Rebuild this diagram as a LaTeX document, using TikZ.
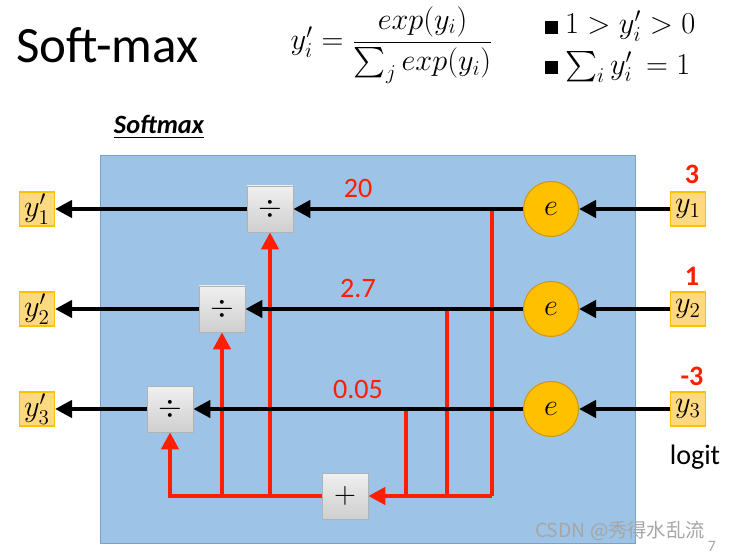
\documentclass[tikz,border=0pt]{standalone}
\usepackage{fontspec}
\setmainfont{Carlito}
\newfontfamily\cjk{Noto Sans CJK SC}
\usepackage{amsmath}
\usetikzlibrary{arrows.meta,calc}

\definecolor{panel}{RGB}{157,195,230}
\definecolor{panelline}{RGB}{120,160,200}
\definecolor{sun}{RGB}{255,192,0}
\definecolor{sunline}{RGB}{210,150,20}
\definecolor{pale}{RGB}{255,217,127}
\definecolor{wire}{RGB}{255,30,0}

\begin{document}
\begin{tikzpicture}[x=0.02cm,y=-0.02cm,
  every node/.style={font=\fontsize{17}{19}\selectfont},
  io/.style={draw=sun,fill=pale,line width=0.6pt,minimum width=0.7cm,minimum height=0.68cm,inner sep=0pt},
  ex/.style={circle,draw=sunline,fill=sun,line width=0.6pt,minimum size=1.1cm,inner sep=0pt},
  op/.style={draw=gray!60,top color=gray!12,bottom color=gray!38,minimum size=0.92cm,inner sep=0pt},
  num/.style={text=wire,font=\fontsize{16}{18}\selectfont},
  val/.style={text=wire,font=\fontsize{16}{18}\selectfont\bfseries,inner sep=1pt},
  ba/.style={-{Triangle[length=3.4mm,width=3.4mm]},line width=2.4pt},
  rl/.style={draw=wire,line width=2.4pt},
  ra/.style={rl,-{Triangle[length=3.4mm,width=3.4mm]}}]
\useasboundingbox (0,0) rectangle (731,553);
% header
\node[anchor=west,font=\fontsize{29}{32}\selectfont] (title) at (10,45) {Soft-max};
\node[font=\fontsize{18.5}{20}\selectfont,inner sep=0pt] (formula) at (392,45)
  {$y_i' = \dfrac{exp(y_i)}{\sum\nolimits_j exp(y_i)}$};
\node[anchor=west,font=\fontsize{17}{19}\selectfont,inner sep=0pt] (prop1) at (545,26)
  {\rule{0.26cm}{0.26cm}\ $1 > y_i' > 0$};
\node[anchor=west,font=\fontsize{17}{19}\selectfont,inner sep=0pt] (prop2) at (545,67)
  {\rule{0.26cm}{0.26cm}\ $\sum\nolimits_i y_i' \,= 1$};
% panel
\node[font=\fontsize{15}{17}\selectfont\bfseries\itshape] (name) at (159,127) {\underline{Softmax}};
\fill[panel,draw=panelline,line width=0.5pt] (100,155) rectangle (635,543);
% nodes
\node[io] (in1) at (688,209) {$y_1$};
\node[io] (in2) at (688,309) {$y_2$};
\node[io] (in3) at (688,409) {$y_3$};
\node[val] (v1) at (692,174) {3};
\node[val] (v2) at (692,276) {1};
\node[val] (v3) at (692,376) {-3};
\node[font=\fontsize{16}{18}\selectfont] (logit) at (695,457) {logit};
\node[ex] (e1) at (551,209) {$e$};
\node[ex] (e2) at (551,309) {$e$};
\node[ex] (e3) at (551,409) {$e$};
\node[op] (div1) at (270,209) {$\div$};
\node[op] (div2) at (222,309) {$\div$};
\node[op] (div3) at (170,409) {$\div$};
\node[op] (sum) at (345,496) {\LARGE$+$};
\node[io] (out1) at (37,209) {$y_1'$};
\node[io] (out2) at (37,309) {$y_2'$};
\node[io] (out3) at (37,409) {$y_3'$};
\node[num] (n1) at (358,188) {20};
\node[num] (n2) at (358,288) {2.7};
\node[num] (n3) at (358,389) {0.05};
\coordinate (t1) at (492,209);
\coordinate (t2) at (447,309);
\coordinate (t3) at (406,409);
% sum wires
\draw[rl] (t1) -- (t1 |- sum);
\draw[rl] (t2) -- (t2 |- sum);
\draw[rl] (t3) -- (t3 |- sum);
\draw[ra] (t1 |- sum) -- (sum);
\draw[ra] (sum) -| (div3);
\draw[ra] (sum -| div2) -- (div2);
\draw[ra] (sum -| div1) -- (div1);
% main path
\draw[ba] (in1) -- (e1);
\draw[ba] (in2) -- (e2);
\draw[ba] (in3) -- (e3);
\draw[ba] (e1) -- (div1);
\draw[ba] (e2) -- (div2);
\draw[ba] (e3) -- (div3);
\draw[ba] (div1) -- (out1);
\draw[ba] (div2) -- (out2);
\draw[ba] (div3) -- (out3);
% watermark
\node[text=gray!70,font=\cjk\fontsize{11}{13}\selectfont] (mark) at (620,531) {CSDN @秀得水乱流};
\node[text=gray!70,font=\fontsize{9}{10}\selectfont] (page) at (712,546) {7};
\end{tikzpicture}
\end{document}
